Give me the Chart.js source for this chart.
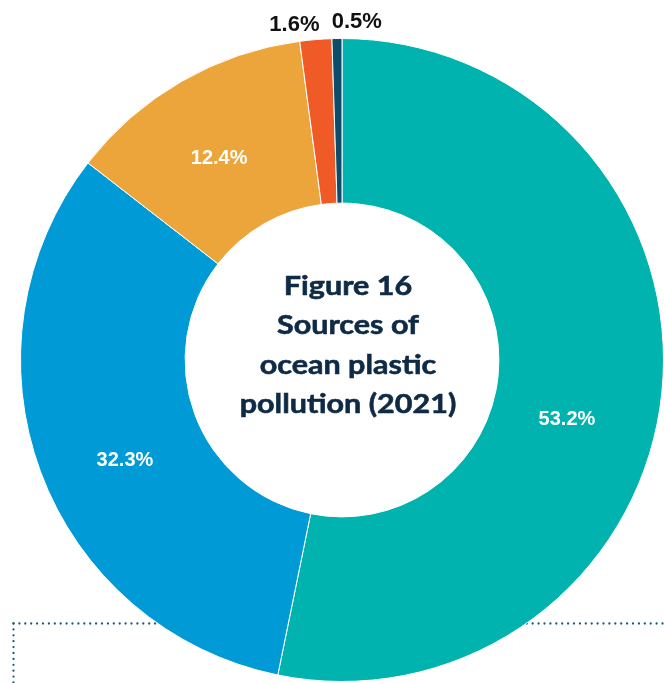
<!DOCTYPE html>
<html>
<head>
<meta charset="utf-8">
<script src="https://cdn.jsdelivr.net/npm/chart.js@4.4.1/dist/chart.umd.min.js"></script>
<style>
  html, body { margin: 0; padding: 0; background: #ffffff; }
  body { width: 664px; height: 683px; overflow: hidden; position: relative; }
  #wrap { position: absolute; left: 0; top: 0; width: 684px; height: 720px; }
</style>
</head>
<body>
<div id="wrap"><canvas id="chart" width="684" height="720"></canvas></div>
<script>
// Share of ocean plastic pollution by source, 2021 (percent)
const shares = [53.2, 32.3, 12.4, 1.6, 0.5];
const sliceColors = ['#00b3af', '#009ad6', '#eca53b', '#ef5a26', '#0c4d6c'];
const titleLines = ['Figure 16', 'Sources of', 'ocean plastic', 'pollution (2021)'];
const shareLabels = shares.map(v => v.toFixed(1) + '%');

// Label placement per slice: inside the ring (white) or just outside (dark)
const labelPlacement = [
  { inside: true,  nudgeDeg: 9,    radius: 0.46 },
  { inside: true,  nudgeDeg: -4.5, radius: 0.50 },
  { inside: true,  nudgeDeg: -1.5, radius: 0.48 },
  { inside: false, nudgeDeg: -3.4, offset: 17 },
  { inside: false, nudgeDeg: 3.4,  offset: 17 }
];

// Dotted frame running behind the ring
const dottedFrame = {
  id: 'dottedFrame',
  beforeDatasetsDraw(chart) {
    const ctx = chart.ctx;
    ctx.save();
    ctx.strokeStyle = '#1d5b7b';
    ctx.lineWidth = 2.3;
    ctx.lineCap = 'round';
    ctx.setLineDash([0, 5.9]);
    ctx.beginPath();
    ctx.moveTo(13.5, 623.5);
    ctx.lineTo(700, 623.5);
    ctx.stroke();
    ctx.beginPath();
    ctx.moveTo(13.5, 623.5);
    ctx.lineTo(13.5, 720);
    ctx.stroke();
    ctx.restore();
  }
};

// Percent labels and the title in the hole
const ringText = {
  id: 'ringText',
  afterDatasetsDraw(chart) {
    const ctx = chart.ctx;
    const meta = chart.getDatasetMeta(0);
    ctx.save();
    meta.data.forEach((arc, i) => {
      const p = arc.getProps(['x', 'y', 'startAngle', 'endAngle', 'innerRadius', 'outerRadius'], true);
      const place = labelPlacement[i];
      const mid = (p.startAngle + p.endAngle) / 2 + place.nudgeDeg * Math.PI / 180;
      let r;
      if (place.inside) {
        r = p.innerRadius + (p.outerRadius - p.innerRadius) * place.radius;
        ctx.fillStyle = '#ffffff';
        ctx.font = 'bold 20px "Liberation Sans", Arial, sans-serif';
      } else {
        r = p.outerRadius + place.offset;
        ctx.fillStyle = '#111111';
        ctx.font = 'bold 22px "Liberation Sans", Arial, sans-serif';
      }
      ctx.textAlign = 'center';
      ctx.textBaseline = 'middle';
      ctx.fillText(shareLabels[i], p.x + r * Math.cos(mid), p.y + r * Math.sin(mid));
    });

    // Title: a wide, heavy geometric face, widened slightly around its centre
    const cx = meta.data[0].x + 6;
    const cy = meta.data[0].y;
    ctx.fillStyle = '#0f2a45';
    ctx.font = 'bold 27px Lato, "Open Sans", sans-serif';
    ctx.textAlign = 'center';
    ctx.textBaseline = 'alphabetic';
    ctx.lineWidth = 0.6;
    ctx.strokeStyle = '#0f2a45';
    const lineGap = 39.3;
    const firstBaseline = cy - 65;
    ctx.translate(cx, 0);
    ctx.scale(1.13, 1);
    titleLines.forEach((t, i) => {
      ctx.fillText(t, 0, firstBaseline + i * lineGap);
      ctx.strokeText(t, 0, firstBaseline + i * lineGap);
    });
    ctx.restore();
  }
};

new Chart(document.getElementById('chart'), {
  type: 'doughnut',
  data: {
    labels: shareLabels,
    datasets: [{
      data: shares,
      backgroundColor: sliceColors,
      borderColor: '#ffffff',
      borderWidth: 1,
      hoverOffset: 0
    }]
  },
  options: {
    responsive: false,
    animation: false,
    cutout: '48.8%',
    layout: { padding: 20 },
    plugins: {
      legend: { display: false },
      tooltip: { enabled: false }
    }
  },
  plugins: [dottedFrame, ringText]
});
</script>
</body>
</html>
